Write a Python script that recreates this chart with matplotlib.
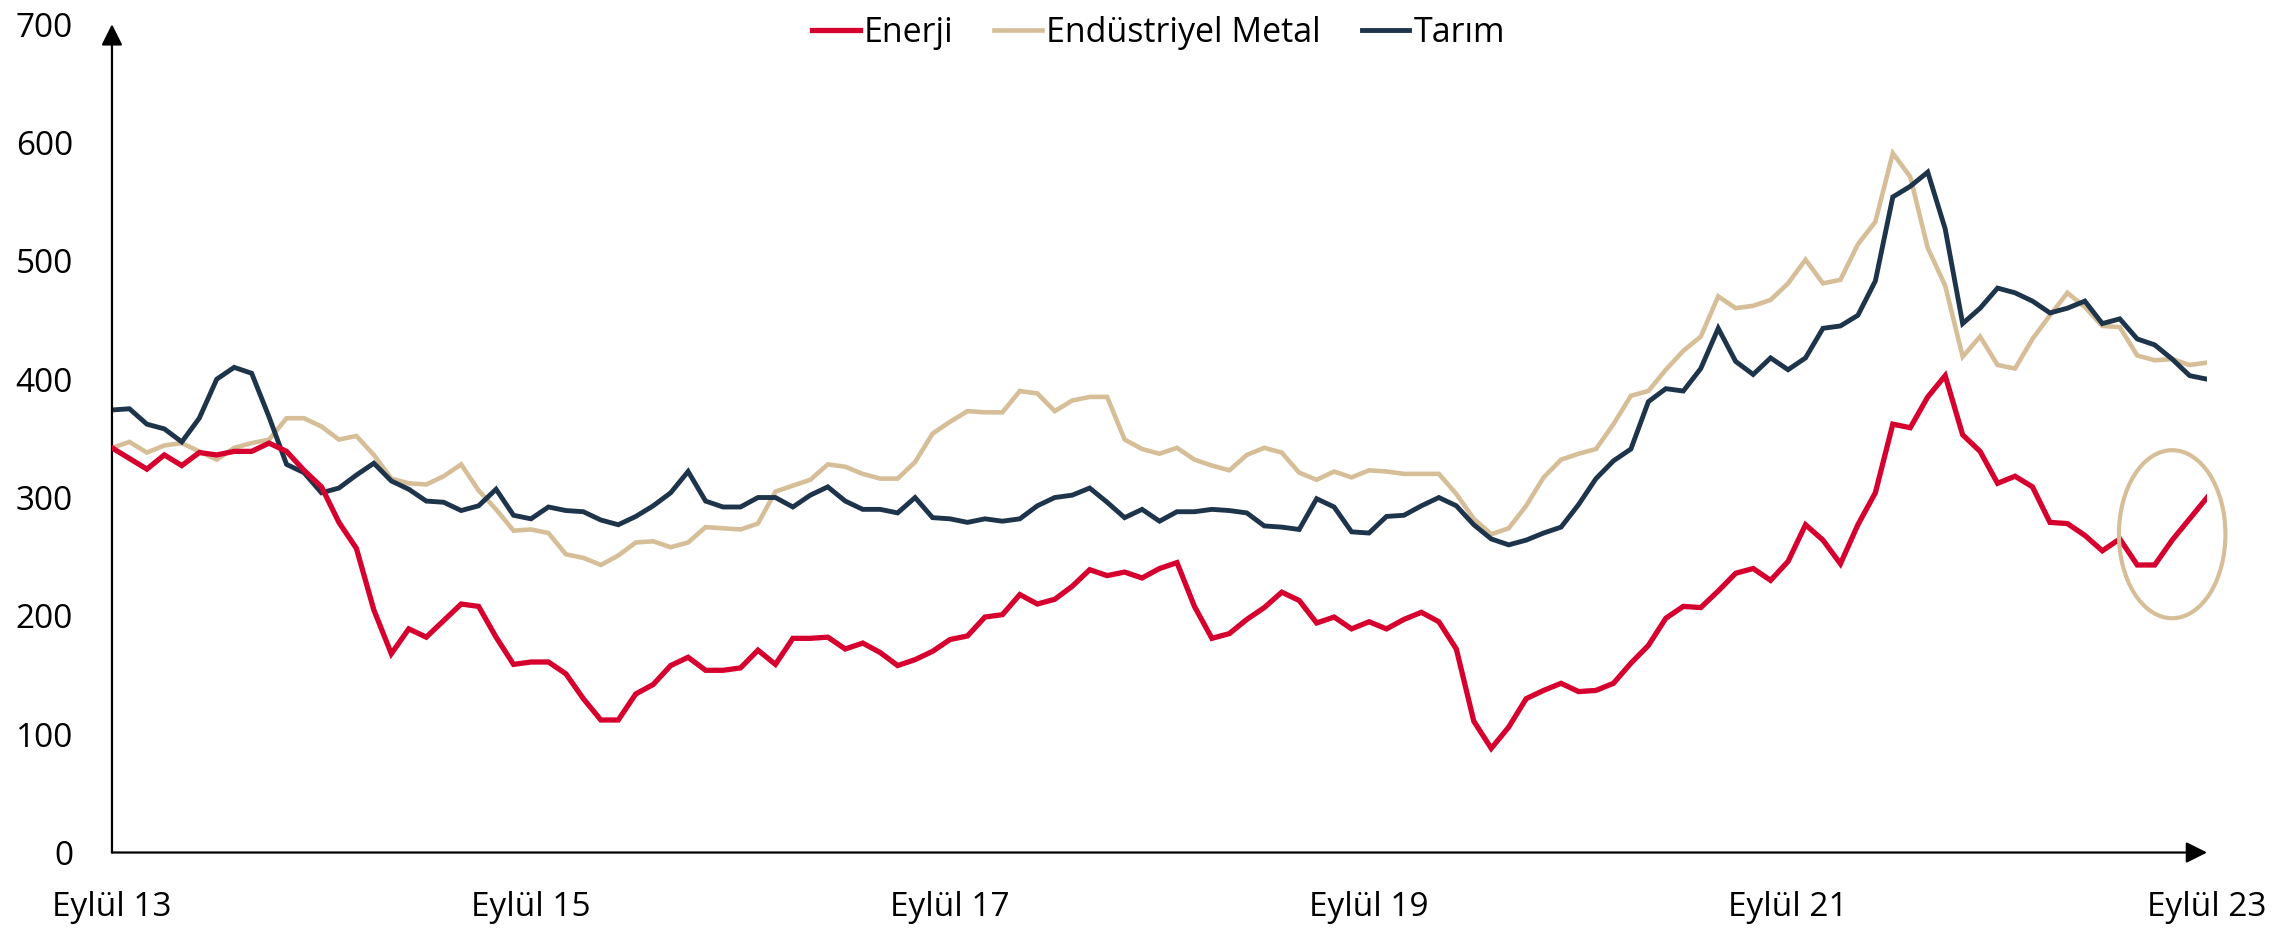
#!/usr/bin/env python3
"""
Emtia alt endeksleri (Enerji, Endustriyel Metal, Tarim), Eylul 2013 - Eylul 2023.
Writes out.png.
"""

import sys

import matplotlib
matplotlib.use("Agg")
import matplotlib.pyplot as plt
from matplotlib.patches import Ellipse


# monthly values, Sep 2013 .. Sep 2023 (121 points)
ENERJI = [
    342, 333, 324, 336, 327, 338, 336, 339, 339, 346, 339, 323, 309, 279, 257, 205,
    168, 189, 182, 196, 210, 208, 182, 159, 161, 161, 151, 130, 112, 112, 134, 142,
    158, 165, 154, 154, 156, 171, 159, 181, 181, 182, 172, 177, 169, 158, 163, 170,
    180, 183, 199, 201, 218, 210, 214, 225, 239, 234, 237, 232, 240, 245, 208, 181,
    185, 197, 207, 220, 213, 194, 199, 189, 195, 189, 197, 203, 195, 172, 111, 88,
    106, 130, 137, 143, 136, 137, 143, 160, 175, 198, 208, 207, 221, 236, 240, 230,
    246, 277, 264, 244, 277, 304, 362, 359, 385, 403, 353, 339, 312, 318, 309, 279,
    278, 268, 255, 265, 243, 243, 264, 282, 300,
]
METAL = [
    342, 347, 338, 344, 346, 339, 332, 342, 346, 349, 367, 367, 360, 349, 352, 336,
    316, 312, 311, 318, 328, 306, 290, 272, 273, 270, 252, 249, 243, 251, 262, 263,
    258, 262, 275, 274, 273, 278, 305, 310, 315, 328, 326, 320, 316, 316, 330, 354,
    364, 373, 372, 372, 390, 388, 373, 382, 385, 385, 349, 341, 337, 342, 332, 327,
    323, 336, 342, 338, 321, 315, 322, 317, 323, 322, 320, 320, 320, 303, 282, 269,
    274, 293, 317, 332, 337, 341, 362, 386, 390, 408, 424, 436, 470, 460, 462, 467,
    481, 501, 481, 484, 514, 533, 591, 571, 511, 479, 419, 436, 412, 409, 434, 454,
    473, 461, 445, 444, 420, 416, 417, 412, 414,
]
TARIM = [
    374, 375, 362, 358, 347, 367, 400, 410, 405, 368, 328, 321, 304, 308, 319, 329,
    314, 307, 297, 296, 289, 293, 307, 285, 282, 292, 289, 288, 281, 277, 284, 293,
    304, 322, 297, 292, 292, 300, 300, 292, 302, 309, 297, 290, 290, 287, 300, 283,
    282, 279, 282, 280, 282, 293, 300, 302, 308, 296, 283, 290, 280, 288, 288, 290,
    289, 287, 276, 275, 273, 299, 292, 271, 270, 284, 285, 293, 300, 293, 277, 265,
    260, 264, 270, 275, 294, 316, 331, 341, 381, 392, 390, 409, 443, 415, 404, 418,
    408, 418, 443, 445, 454, 483, 554, 563, 575, 527, 447, 460, 477, 473, 466, 456,
    460, 466, 447, 451, 434, 429, 417, 403, 400,
]

X_TICKS = [0, 24, 48, 72, 96, 120]
X_TICK_LABELS = ["Eylül 13", "Eylül 15", "Eylül 17", "Eylül 19", "Eylül 21", "Eylül 23"]
Y_TICKS = [0, 100, 200, 300, 400, 500, 600, 700]

# highlighted last months (centre month, centre value, width in months, height in value)
HIGHLIGHT = (118.0, 269.0, 6.1, 142.0)

ENERJI_COLOR = "#D6002F"
METAL_COLOR = "#D5BE98"
TARIM_COLOR = "#1E344B"


def _build_figure():
    plt.rcParams.update(
        {
            "font.family": ["Open Sans", "DejaVu Sans"],
            "axes.unicode_minus": False,
        }
    )

    fig = plt.figure(figsize=(22.85, 9.31), dpi=100)
    ax = fig.add_axes([0.049, 0.0843, 0.9169, 0.8897])

    x = list(range(len(ENERJI)))
    ax.plot(x, ENERJI, color=ENERJI_COLOR, linewidth=3.8, label="Enerji",
            solid_joinstyle="miter", zorder=4)
    ax.plot(x, METAL, color=METAL_COLOR, linewidth=3.3, label="Endüstriyel Metal",
            solid_joinstyle="miter", zorder=2)
    ax.plot(x, TARIM, color=TARIM_COLOR, linewidth=3.5, label="Tarım",
            solid_joinstyle="miter", zorder=3)

    cx, cy, w, h = HIGHLIGHT
    ax.add_patch(
        Ellipse((cx, cy), width=w, height=h, fill=False, clip_on=False,
                edgecolor=METAL_COLOR, linewidth=3.0, zorder=5)
    )

    ax.set_xlim(0, 120)
    ax.set_ylim(0, 700)

    ax.set_xticks(X_TICKS)
    ax.set_xticklabels(X_TICK_LABELS)
    ax.set_yticks(Y_TICKS)
    ax.tick_params(axis="both", length=0, labelsize=24, pad=28)

    for spine in ax.spines.values():
        spine.set_visible(False)

    # axis lines with arrow heads
    arrow = dict(arrowstyle="-|>", color="black", lw=1.6,
                 mutation_scale=32, shrinkA=0, shrinkB=0)
    ax.annotate("", xy=(0, 1.0), xytext=(0, 0), xycoords="axes fraction",
                textcoords="axes fraction", arrowprops=arrow, annotation_clip=False)
    ax.annotate("", xy=(1.0, 0), xytext=(0, 0), xycoords="axes fraction",
                textcoords="axes fraction", arrowprops=arrow, annotation_clip=False)

    fig.legend(
        loc="upper center",
        bbox_to_anchor=(0.507, 1.016),
        ncol=3,
        frameon=False,
        fontsize=24.5,
        handlelength=1.4,
        handletextpad=0.12,
        columnspacing=1.2,
    )
    return fig


def main(argv):
    fig = _build_figure()
    fig.savefig("out.png", dpi=100)
    plt.close(fig)
    print("Wrote out.png")


if __name__ == "__main__":
    sys.exit(main(sys.argv[1:]))
